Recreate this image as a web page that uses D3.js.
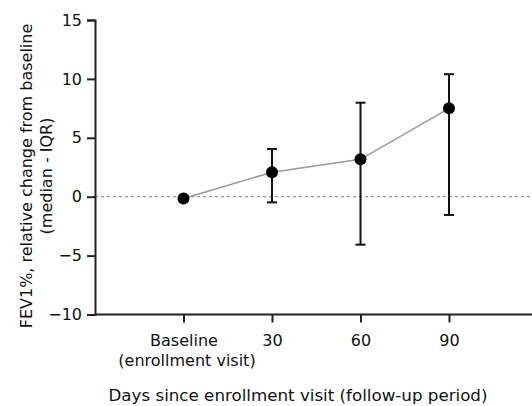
<!DOCTYPE html>
<head>
<meta charset="utf-8">
<style>
body { margin: 0; background: #fff; }
text { font-family: "DejaVu Sans", sans-serif; fill: #111; }
</style>
</head>
<body>
<script src="https://d3js.org/d3.v7.min.js"></script>
<script>

// Data
var visits = ["Baseline", "30", "60", "90"];
var medians = [-0.15, 2.07, 3.17, 7.5];
var q1 = [-0.15, -0.48, -4.07, -1.55];
var q3 = [-0.15, 4.05, 7.98, 10.4];
var yTicks = [-10, -5, 0, 5, 10, 15];

var W = 532, H = 406;
var svg = d3.select("body").append("svg")
    .attr("width", W)
    .attr("height", H);

// Scales: x position -1 is the y axis, categories sit at 0..3
var x = d3.scaleLinear().domain([-1, 4]).range([95, 537.5]);
var y = d3.scaleLinear().domain([-10, 15]).range([314.5, 20]);

// zero reference line
svg.append("line")
    .attr("x1", x(-1)).attr("x2", W)
    .attr("y1", y(0)).attr("y2", y(0))
    .attr("stroke", "#999")
    .attr("stroke-width", 1.2)
    .attr("stroke-dasharray", "3,3");

// Y axis
var yAxis = svg.append("g")
    .attr("transform", "translate(" + x(-1) + ",0)")
    .call(d3.axisLeft(y).tickValues(yTicks).tickSize(8).tickPadding(5));
yAxis.select(".domain").attr("stroke", "#222").attr("stroke-width", 2);
yAxis.selectAll(".tick line").attr("stroke", "#222").attr("stroke-width", 2);
yAxis.selectAll("text").attr("font-size", 16).attr("font-family", null).attr("fill", "#111");

// X axis
var xAxis = svg.append("g")
    .attr("transform", "translate(0," + y(-10) + ")")
    .call(d3.axisBottom(x).tickValues([0, 1, 2, 3]).tickSize(8).tickSizeOuter(0)
      .tickFormat(function(d) { return visits[d]; }));
xAxis.select(".domain").attr("stroke", "#222").attr("stroke-width", 2)
    .attr("d", "M" + x(-1) + ",0H" + W);
xAxis.selectAll(".tick line").attr("stroke", "#222").attr("stroke-width", 2);
xAxis.selectAll("text").attr("font-size", 16).attr("font-family", null).attr("fill", "#111")
    .attr("dy", "1.3em");
xAxis.select(".tick text")
    .append("tspan").attr("x", 3).attr("dy", "1.2em").text("(enrollment visit)");

var idx = d3.range(visits.length);

// connecting line
svg.append("path")
    .datum(idx)
    .attr("fill", "none")
    .attr("stroke", "#999")
    .attr("stroke-width", 1.5)
    .attr("d", d3.line().x(function(i) { return x(i); }).y(function(i) { return y(medians[i]); }));

// error bars
var eb = svg.selectAll(".eb").data(idx.filter(function(i) { return q3[i] !== q1[i]; }))
  .enter().append("g").attr("class", "eb")
    .attr("stroke", "#111").attr("stroke-width", 2);
eb.append("line")
    .attr("x1", function(i) { return x(i); }).attr("x2", function(i) { return x(i); })
    .attr("y1", function(i) { return y(q1[i]); }).attr("y2", function(i) { return y(q3[i]); });
eb.append("line")
    .attr("x1", function(i) { return x(i) - 5; }).attr("x2", function(i) { return x(i) + 5; })
    .attr("y1", function(i) { return y(q1[i]); }).attr("y2", function(i) { return y(q1[i]); });
eb.append("line")
    .attr("x1", function(i) { return x(i) - 5; }).attr("x2", function(i) { return x(i) + 5; })
    .attr("y1", function(i) { return y(q3[i]); }).attr("y2", function(i) { return y(q3[i]); });

// median points
svg.selectAll(".dot").data(idx)
  .enter().append("circle")
    .attr("class", "dot")
    .attr("cx", function(i) { return x(i); })
    .attr("cy", function(i) { return y(medians[i]); })
    .attr("r", 6)
    .attr("fill", "#000");

// axis titles
svg.append("text")
    .attr("x", 298).attr("y", 401)
    .attr("text-anchor", "middle")
    .attr("font-size", 16.7)
    .text("Days since enrollment visit (follow-up period)");

var yt = svg.append("text")
    .attr("transform", "translate(32,176) rotate(-90)")
    .attr("text-anchor", "middle")
    .attr("font-size", 16);
yt.append("tspan").attr("x", 0).attr("y", 0).text("FEV1%, relative change from baseline");
yt.append("tspan").attr("x", 0).attr("y", 20).text("(median - IQR)");

</script>
</body>
</html>
